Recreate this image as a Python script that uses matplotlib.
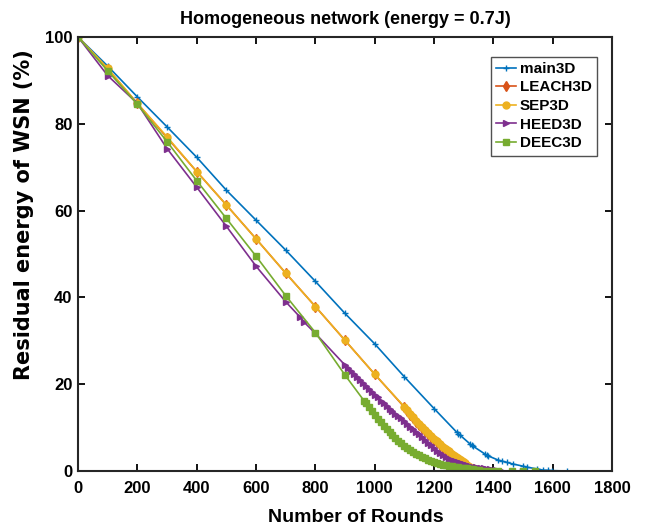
import matplotlib
matplotlib.use("Agg")
import matplotlib.pyplot as plt

# main3D
main_x = [0, 100, 200, 300, 400, 500, 600, 700, 800, 900, 1000, 1100, 1200,
          1277, 1282, 1287, 1322, 1327, 1332, 1372, 1377, 1382, 1417, 1428,
          1445, 1467, 1501, 1512, 1546, 1568, 1585, 1597, 1647]
main_y = [100, 93.3, 86.2, 79.3, 72.3, 64.7, 57.8, 50.9, 43.7, 36.3, 29.3, 21.7, 14.4,
          8.9, 8.6, 8.3, 6.2, 6.0, 5.7, 3.9, 3.7, 3.5, 2.5, 2.3,
          2.0, 1.6, 1.1, 0.9, 0.5, 0.2, 0.15, 0.1, 0.0]

# LEACH3D
leach_x = [0, 100, 200, 300, 400, 500, 600, 700, 800, 900, 1000,
           1100, 1110, 1120, 1130, 1140, 1150, 1160, 1170, 1180, 1190, 1200,
           1210, 1220, 1230, 1240, 1250, 1260, 1270, 1280, 1290, 1300, 1310,
           1320, 1330, 1340, 1345]
leach_y = [100, 92.6, 84.7, 76.8, 69.0, 61.3, 53.5, 45.6, 37.9, 30.1, 22.3,
           14.7, 13.8, 13.0, 12.2, 11.4, 10.6, 9.9, 9.2, 8.5, 7.8, 7.2,
           6.6, 6.0, 5.4, 4.8, 4.3, 3.8, 3.3, 2.8, 2.3, 1.8, 1.3,
           0.8, 0.4, 0.1, 0.0]

# SEP3D
sep_x = [0, 100, 200, 300, 400, 500, 600, 700, 800, 900, 1000,
         1100, 1110, 1120, 1130, 1140, 1150, 1160, 1170, 1180, 1190, 1200,
         1210, 1220, 1230, 1240, 1250, 1260, 1270, 1280, 1290, 1300, 1310,
         1320, 1330, 1340, 1350, 1360]
sep_y = [100, 92.8, 84.7, 77.0, 69.0, 61.3, 53.5, 45.6, 37.9, 30.1, 22.3,
         14.8, 14.0, 13.2, 12.4, 11.6, 10.8, 10.1, 9.4, 8.7, 8.0, 7.4,
         6.8, 6.2, 5.6, 5.0, 4.5, 4.0, 3.5, 3.0, 2.5, 2.0, 1.5,
         1.0, 0.6, 0.3, 0.1, 0.0]

# HEED3D
heed_x = [0, 100, 200, 300, 400, 500, 600, 700, 748, 762, 800,
          900, 910, 920, 930, 940, 950, 960, 970, 980, 990, 1000,
          1010, 1020, 1030, 1040, 1050, 1060, 1070, 1080, 1090, 1100,
          1110, 1120, 1130, 1140, 1150, 1160, 1170, 1180, 1190, 1200,
          1210, 1220, 1230, 1240, 1250, 1260, 1270, 1280, 1290, 1300,
          1310, 1320, 1330, 1340, 1350, 1360, 1370, 1380, 1390, 1400,
          1410, 1420, 1430, 1501]
heed_y = [100, 91.1, 84.7, 74.3, 65.4, 56.4, 47.2, 39.0, 35.5, 34.3, 31.7,
          24.4, 23.8, 23.1, 22.4, 21.7, 21.0, 20.3, 19.6, 19.0, 18.3, 17.6,
          17.0, 16.2, 15.6, 15.0, 14.4, 13.8, 13.2, 12.6, 12.1, 11.5,
          10.9, 10.2, 9.6, 9.0, 8.5, 7.8, 7.2, 6.5, 5.9, 5.3,
          4.7, 4.2, 3.7, 3.2, 2.8, 2.5, 2.2, 2.0, 1.8, 1.6,
          1.4, 1.2, 1.0, 0.9, 0.8, 0.7, 0.6, 0.5, 0.4, 0.3,
          0.2, 0.1, 0.0, 0.0]

# DEEC3D
deec_x = [0, 100, 200, 300, 400, 500, 600, 700, 800, 900, 964,
          970, 980, 990, 1000, 1010, 1020, 1030, 1040, 1050, 1060, 1070,
          1080, 1090, 1100, 1110, 1120, 1130, 1140, 1150, 1160, 1170, 1180,
          1190, 1200, 1210, 1220, 1230, 1240, 1250, 1260, 1270, 1280, 1290,
          1300, 1310, 1320, 1330, 1340, 1350, 1360, 1377, 1400, 1417, 1462,
          1501, 1540]
deec_y = [100, 92.2, 84.5, 75.9, 66.9, 58.2, 49.5, 40.4, 31.9, 22.1, 16.2,
          15.7, 14.8, 13.8, 12.9, 12.0, 11.2, 10.4, 9.7, 9.0, 8.3, 7.6,
          7.0, 6.4, 5.8, 5.3, 4.8, 4.4, 4.0, 3.6, 3.2, 2.9, 2.6,
          2.3, 2.0, 1.8, 1.6, 1.4, 1.3, 1.2, 1.1, 1.0, 0.9, 0.8,
          0.7, 0.6, 0.5, 0.4, 0.3, 0.2, 0.1, 0.0, 0.0, 0.0, 0.0,
          0.0, 0.0]

SERIES = [
    ("main3D", main_x, main_y, "#0072BD", "+", 4),
    ("LEACH3D", leach_x, leach_y, "#D95319", "d", 5),
    ("SEP3D", sep_x, sep_y, "#EDB120", "o", 5),
    ("HEED3D", heed_x, heed_y, "#7E2F8E", ">", 5),
    ("DEEC3D", deec_x, deec_y, "#77AC30", "s", 4),
]

plt.rcParams.update({
    "font.family": ["Liberation Sans", "DejaVu Sans"],
    "font.weight": "bold",
    "axes.labelweight": "bold",
    "axes.titleweight": "bold",
})

fig = plt.figure(figsize=(6.48, 5.30), dpi=100)
ax = fig.add_axes([0.1204, 0.1113, 0.8241, 0.8189])

for name, xs, ys, color, marker, ms in SERIES:
    ax.plot(xs, ys, color=color, marker=marker, markersize=ms, linewidth=1.2,
            markerfacecolor=color, markeredgewidth=1.0, label=name)

ax.set_xlim(0, 1800)
ax.set_ylim(0, 100)
ax.set_xticks(range(0, 1801, 200))
ax.set_yticks(range(0, 101, 20))
ax.tick_params(direction="in", top=True, right=True, length=5, width=1.3,
               labelsize=12, pad=4)
ax.tick_params(axis="x", pad=7)
for lbl in ax.get_xticklabels() + ax.get_yticklabels():
    lbl.set_fontweight("bold")
for sp in ax.spines.values():
    sp.set_linewidth(1.5)
    sp.set_color("#262626")

ax.set_xlabel("Number of Rounds", fontsize=14)
ax.xaxis.set_label_coords(0.52, -0.088)
ax.set_ylabel("Residual energy of WSN (%)", fontsize=15,
              family=["DejaVu Sans"])
ax.yaxis.set_label_coords(-0.083, 0.59)
ax.set_title("Homogeneous network (energy = 0.7J)", fontsize=13, pad=9)

leg = ax.legend(loc="upper right", bbox_to_anchor=(0.972, 0.955), fontsize=11,
                frameon=True, fancybox=False, handlelength=1.3,
                handletextpad=0.25, borderpad=0.35, labelspacing=0.3,
                borderaxespad=0)
leg.get_frame().set_edgecolor("#262626")
leg.get_frame().set_linewidth(1.0)
for t in leg.get_texts():
    t.set_fontweight("bold")

fig.savefig("out.png", dpi=100)
